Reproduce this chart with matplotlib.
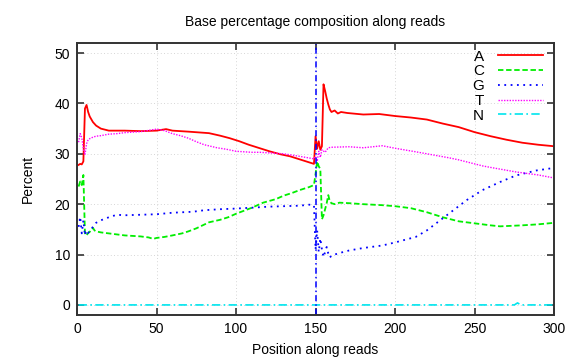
import matplotlib
matplotlib.use("Agg")
import matplotlib.pyplot as plt

plt.rcParams["font.family"] = ["Liberation Sans", "DejaVu Sans"]

# ── Data (position along reads, percent) ─────────────────────────────────────
A_pos = [1, 2, 3, 4, 5, 6, 7, 8, 10, 12, 15, 20, 25, 30, 40, 50, 56, 60, 70,
         83, 90, 96, 102, 108, 115, 121, 128, 134, 140, 146, 149,
         150, 151, 152, 153, 154, 155, 156, 157, 158, 159, 160, 162, 164, 166,
         170, 180, 190, 200, 210, 220, 230, 240, 250, 260, 270, 280, 290, 300]
A_pct = [27.8, 28.0, 27.9, 28.5, 39.0, 39.7, 38.3, 37.4, 36.3, 35.6, 35.0, 34.6,
         34.6, 34.6, 34.5, 34.6, 34.9, 34.6, 34.4, 34.1, 33.6, 33.1, 32.5, 31.8,
         31.1, 30.5, 29.9, 29.5, 28.9, 28.3, 28.0,
         33.5, 31.0, 32.5, 30.8, 31.5, 43.8, 42.5, 41.0, 39.8, 38.8, 38.3, 38.6,
         38.0, 38.3, 38.1, 37.8, 37.9, 37.5, 37.2, 36.8, 36.0, 35.3, 34.3, 33.5,
         32.8, 32.2, 31.8, 31.5]

C_pos = [1, 2, 3, 4, 5, 6, 7, 8, 9, 10, 11, 12, 15, 20, 25, 30, 40, 45, 48, 50,
         55, 60, 66, 70, 75, 83, 90, 95, 100, 105, 110, 117, 125, 130, 135, 140,
         146, 149,
         150, 151, 152, 153, 154, 155, 156, 157, 158, 159, 160, 162, 165, 171,
         180, 192, 200, 210, 220, 226, 230, 240, 250, 260, 266, 280, 290, 300]
C_pct = [23.5, 24.5, 23.8, 25.8, 14.0, 13.8, 14.3, 14.5, 15.0, 15.3, 14.8, 14.6,
         14.4, 14.2, 14.0, 13.8, 13.6, 13.4, 13.1, 13.3, 13.5, 13.8, 14.2, 14.6,
         15.2, 16.4, 16.9, 17.4, 18.1, 18.7, 19.3, 20.3, 21.0, 21.7, 22.2, 22.8,
         23.4, 23.8,
         26.0, 28.5, 27.5, 27.0, 17.0, 17.8, 19.0, 20.2, 21.8, 20.5, 20.2, 20.0,
         20.3, 20.2, 20.0, 19.8, 19.6, 19.2, 18.4, 17.8, 17.4, 16.6, 16.2, 15.8,
         15.6, 15.8, 16.0, 16.3]

G_pos = [1, 2, 3, 4, 5, 6, 7, 8, 10, 12, 15, 20, 25, 30, 40, 50, 60, 73, 80, 90,
         98, 110, 120, 130, 140, 146, 149,
         150, 151, 152, 153, 154, 155, 156, 157, 158, 159, 160, 162, 165, 171,
         180, 192, 200, 213, 220, 230, 240, 245, 255, 266, 276, 289, 300]
G_pct = [15.5, 17.5, 14.2, 16.8, 13.8, 14.8, 14.3, 14.6, 15.5, 16.3, 16.8, 17.4,
         17.9, 17.8, 17.9, 18.0, 18.3, 18.5, 18.8, 19.0, 19.1, 19.3, 19.5, 19.6,
         19.7, 19.9, 19.8,
         11.0, 14.8, 10.5, 13.2, 11.0, 9.5, 10.5, 11.5, 10.2, 9.4, 9.8, 10.0,
         10.3, 10.8, 11.3, 11.8, 12.4, 13.5, 14.8, 17.2, 19.6, 20.8, 22.8, 24.4,
         25.7, 26.7, 27.2]

T_pos = [1, 2, 3, 4, 5, 6, 7, 8, 10, 12, 15, 20, 25, 30, 40, 50, 55, 60, 65, 70,
         75, 80, 88, 94, 100, 110, 115, 120, 130, 140, 149,
         150, 151, 152, 153, 154, 156, 158, 160, 171, 180, 192, 200, 213, 220,
         234, 240, 255, 260, 276, 290, 300]
T_pct = [32.3, 34.0, 33.2, 31.0, 29.8, 32.0, 32.8, 33.0, 33.3, 33.5, 33.6, 33.9,
         34.0, 34.2, 34.4, 34.9, 34.6, 34.0, 33.6, 33.1, 32.4, 31.8, 31.2, 30.9,
         30.5, 30.3, 30.3, 30.2, 30.0, 29.5, 29.0,
         29.5, 28.5, 30.5, 29.3, 30.8, 30.3, 31.2, 31.3, 31.4, 31.2, 31.6, 31.1,
         30.4, 30.0, 29.2, 28.8, 27.6, 27.3, 26.4, 25.8, 25.2]

N_pos = [1, 275, 277, 279, 300]
N_pct = [0.0, 0.0, 0.4, 0.0, 0.0]

READ_BOUNDARY = 150

# ── Figure ────────────────────────────────────────────────────────────────────
fig = plt.figure(figsize=(5.76, 3.6), dpi=100)
ax = fig.add_axes([0.1337, 0.125, 0.8283, 0.7556])

ax.plot(A_pos, A_pct, color="#ff0000", lw=1.3, ls="-", label="A")
ax.plot(C_pos, C_pct, color="#00ee00", lw=1.3, ls=(0, (3, 1.5)), label="C")
ax.plot(G_pos, G_pct, color="#0000ff", lw=1.3, ls=(0, (1, 2.5)), label="G")
ax.plot(T_pos, T_pct, color="#ff00ff", lw=1.0, ls=(0, (1, 1)), label="T")
ax.plot(N_pos, N_pct, color="#00e5ee", lw=1.2, ls=(0, (5, 2, 1, 2)), label="N")
ax.axvline(READ_BOUNDARY, color="#0000ff", lw=1.1, ls=(0, (4, 2, 1, 2)))

ax.set_xlim(0, 300)
ax.set_ylim(-2, 52)
ax.set_xticks(range(0, 301, 50))
ax.set_yticks(range(0, 51, 10))
ax.grid(True, color="#c8c8c8", lw=0.6, ls=(0, (1, 3)))
ax.tick_params(direction="in", length=5, width=1.2, top=True, right=True,
               labelsize=10, color="#333333", pad=5)
for side in ax.spines.values():
    side.set_linewidth(1.4)
    side.set_color("#333333")

ax.set_title("Base percentage composition along reads", fontsize=10, pad=12)
ax.set_xlabel("Position along reads", fontsize=10, labelpad=5)
ax.set_ylabel("Percent", fontsize=10, labelpad=14)

ax.legend(loc="upper right", bbox_to_anchor=(1.0, 1.015), frameon=False,
          markerfirst=False, handlelength=3.0, handletextpad=0.9,
          labelspacing=0.05, fontsize=11, borderaxespad=0.3)

fig.savefig("out.png", dpi=100)
